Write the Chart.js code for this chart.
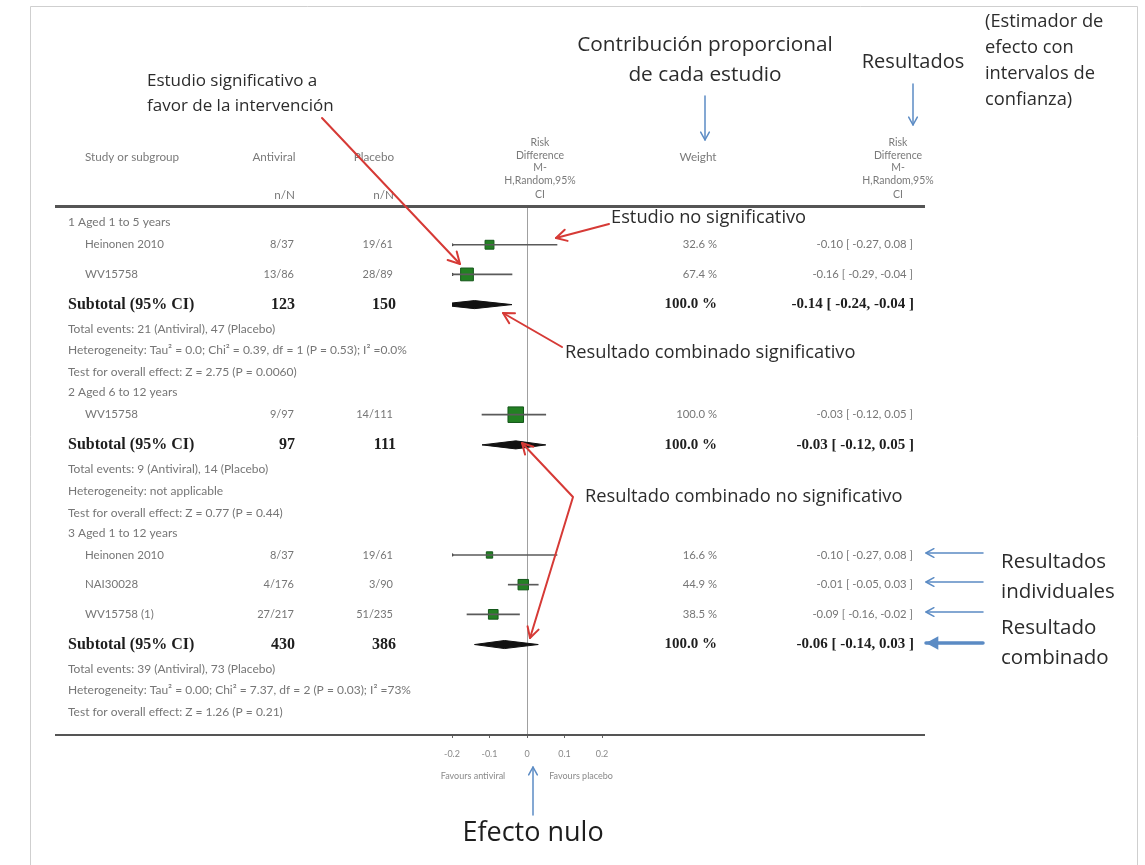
<!DOCTYPE html>
<html>
<head>
<meta charset="utf-8">
<title>Antivirales vs placebo - diferencia de riesgos</title>
<script src="https://cdn.jsdelivr.net/npm/chart.js@4.4.1/dist/chart.umd.min.js"></script>
<style>
  body { margin: 0; background: #fff; }
  #wrap { width: 1145px; height: 865px; position: relative; }
</style>
</head>
<body>
<div id="wrap"><canvas id="forest"></canvas></div>
<script>
// subgroups
const groupLabels = ['1 Aged 1 to 5 years', '2 Aged 6 to 12 years', '3 Aged 1 to 12 years'];

// individual studies
const studyGroup = [0, 0, 1, 2, 2, 2];
const studyNames = ['Heinonen 2010', 'WV15758', 'WV15758', 'Heinonen 2010', 'NAI30028', 'WV15758 (1)'];
const antiviralNN = ['8/37', '13/86', '9/97', '8/37', '4/176', '27/217'];
const placeboNN = ['19/61', '28/89', '14/111', '19/61', '3/90', '51/235'];
const weights = [32.6, 67.4, 100.0, 16.6, 44.9, 38.5];
const rd = [-0.10, -0.16, -0.03, -0.10, -0.01, -0.09];
const rdLow = [-0.27, -0.29, -0.12, -0.27, -0.05, -0.16];
const rdHigh = [0.08, -0.04, 0.05, 0.08, 0.03, -0.02];

// pooled results per subgroup
const subAntiviralN = [123, 97, 430];
const subPlaceboN = [150, 111, 386];
const subWeight = [100.0, 100.0, 100.0];
const subRd = [-0.14, -0.03, -0.06];
const subLow = [-0.24, -0.12, -0.14];
const subHigh = [-0.04, 0.05, 0.03];
const totalEvents = [
  'Total events: 21 (Antiviral), 47 (Placebo)',
  'Total events: 9 (Antiviral), 14 (Placebo)',
  'Total events: 39 (Antiviral), 73 (Placebo)'
];
const heterogeneity = [
  'Heterogeneity: Tau² = 0.0; Chi² = 0.39, df = 1 (P = 0.53); I² =0.0%',
  'Heterogeneity: not applicable',
  'Heterogeneity: Tau² = 0.00; Chi² = 7.37, df = 2 (P = 0.03); I² =73%'
];
const overallEffect = [
  'Test for overall effect: Z = 2.75 (P = 0.0060)',
  'Test for overall effect: Z = 0.77 (P = 0.44)',
  'Test for overall effect: Z = 1.26 (P = 0.21)'
];

// axis
const xTicks = [-0.2, -0.1, 0, 0.1, 0.2];
const xTickLabels = ['-0.2', '-0.1', '0', '0.1', '0.2'];

const TABLE_FONT = 'Lato, "DejaVu Sans", sans-serif';
const SERIF = '"Liberation Serif", "DejaVu Serif", serif';
const NOTE_FONT = '"Open Sans", "Noto Sans", sans-serif';
const RED = '#d63a36';
const BLUE = '#5b8bc4';

// build the row list, then stack rows with a spacing that depends on the row kind
const rows = [];
groupLabels.forEach((label, g) => {
  rows.push({ kind: 'group', text: label });
  studyGroup.forEach((sg, i) => { if (sg === g) rows.push({ kind: 'study', i: i }); });
  rows.push({ kind: 'subtotal', g: g });
  rows.push({ kind: 'text', text: totalEvents[g] });
  rows.push({ kind: 'text', text: heterogeneity[g] });
  rows.push({ kind: 'text', text: overallEffect[g] });
});
let pos = 0;
rows.forEach((r, k) => {
  if (k > 0) {
    const prev = rows[k - 1].kind;
    if (r.kind === 'study') pos += prev === 'group' ? 22 : 29.5;
    else if (r.kind === 'subtotal') pos += 30;
    else if (r.kind === 'text') pos += prev === 'subtotal' ? 24 : 21.7;
    else pos += 20;
  }
  r.y = pos;
});
const studyY = [];
const subY = [];
rows.forEach(r => {
  if (r.kind === 'study') studyY[r.i] = r.y;
  if (r.kind === 'subtotal') subY[r.g] = r.y;
});
const yMax = pos + 22.5;

const fmt = v => v.toFixed(2);
const rdText = (e, lo, hi) => fmt(e) + ' [ ' + fmt(lo) + ', ' + fmt(hi) + ' ]';

// diamonds for the pooled estimates
const DIAMOND_H = 4;
const diamondSets = subRd.map((e, g) => ({
  type: 'line',
  data: [
    { x: subLow[g], y: subY[g] },
    { x: e, y: subY[g] - DIAMOND_H },
    { x: subHigh[g], y: subY[g] },
    { x: e, y: subY[g] + DIAMOND_H },
    { x: subLow[g], y: subY[g] }
  ],
  borderColor: '#111',
  backgroundColor: '#111',
  borderWidth: 1,
  fill: 'shape',
  pointRadius: 0,
  tension: 0
}));

// intervals running past the left edge of the axis get a small end marker
const clippedIdx = studyNames.map((n, i) => i).filter(i => rdLow[i] < xTicks[0]);

function text(ctx, str, x, y, font, color, align) {
  ctx.font = font;
  ctx.fillStyle = color;
  ctx.textAlign = align || 'left';
  ctx.textBaseline = 'middle';
  ctx.fillText(str, x, y);
}

function polyline(ctx, pts, color, w) {
  ctx.strokeStyle = color;
  ctx.lineWidth = w;
  ctx.lineCap = 'round';
  ctx.lineJoin = 'round';
  ctx.beginPath();
  pts.forEach((p, k) => k ? ctx.lineTo(p[0], p[1]) : ctx.moveTo(p[0], p[1]));
  ctx.stroke();
}

function head(ctx, from, to, color, w, size, filled) {
  const a = Math.atan2(to[1] - from[1], to[0] - from[0]);
  const p1 = [to[0] - size * Math.cos(a - 0.5), to[1] - size * Math.sin(a - 0.5)];
  const p2 = [to[0] - size * Math.cos(a + 0.5), to[1] - size * Math.sin(a + 0.5)];
  if (filled) {
    ctx.fillStyle = color;
    ctx.beginPath();
    ctx.moveTo(to[0], to[1]);
    ctx.lineTo(p1[0], p1[1]);
    ctx.lineTo(p2[0], p2[1]);
    ctx.closePath();
    ctx.fill();
  } else {
    polyline(ctx, [p1, to, p2], color, w);
  }
}

function arrow(ctx, from, to, color, w, size, filled) {
  polyline(ctx, [from, to], color, w);
  head(ctx, from, to, color, w, size, filled);
}

const tablePlugin = {
  id: 'tablePlugin',
  beforeDraw(chart) {
    const ctx = chart.ctx;
    ctx.save();
    ctx.fillStyle = '#fff';
    ctx.fillRect(0, 0, chart.width, chart.height);
    ctx.restore();
  },
  afterDraw(chart) {
    const ctx = chart.ctx;
    const ys = chart.scales.y;
    ctx.save();

    // frame
    polyline(ctx, [[30.5, 870], [30.5, 6.5], [1137.5, 6.5], [1137.5, 870]], '#cfcfcf', 1);

    // table rules
    ctx.fillStyle = '#555';
    ctx.fillRect(55, 205, 870, 3);
    ctx.fillRect(55, 734, 870, 2);

    // column headers
    const hf = '11.7px ' + TABLE_FONT;
    const hc = '#7a7a7a';
    text(ctx, 'Study or subgroup', 85, 157, hf, hc);
    text(ctx, 'Antiviral', 274, 157, hf, hc, 'center');
    text(ctx, 'Placebo', 374, 157, hf, hc, 'center');
    text(ctx, 'n/N', 295, 195, hf, hc, 'right');
    text(ctx, 'n/N', 394, 195, hf, hc, 'right');
    text(ctx, 'Weight', 698, 157, hf, hc, 'center');
    const rdHead = ['Risk', 'Difference', 'M-', 'H,Random,95%', 'CI'];
    const rdHeadY = [143, 156, 168, 181, 195];
    rdHead.forEach((s, k) => {
      text(ctx, s, 540, rdHeadY[k], '10.5px ' + TABLE_FONT, hc, 'center');
      text(ctx, s, 898, rdHeadY[k], '10.5px ' + TABLE_FONT, hc, 'center');
    });

    // table body
    const rf = '12px ' + TABLE_FONT;
    const nmf = '11.5px ' + TABLE_FONT;
    const rc = '#767676';
    const sf = '11.3px ' + TABLE_FONT;
    const bold = 'bold 16px ' + SERIF;
    const boldR = 'bold 15px ' + SERIF;
    rows.forEach(r => {
      const y = ys.getPixelForValue(r.y);
      if (r.kind === 'group' || r.kind === 'text') {
        text(ctx, r.text, 68, y, rf, rc);
      } else if (r.kind === 'study') {
        const i = r.i;
        text(ctx, studyNames[i], 85, y, nmf, rc);
        text(ctx, antiviralNN[i], 294, y, '11px ' + TABLE_FONT, rc, 'right');
        text(ctx, placeboNN[i], 393, y, '11px ' + TABLE_FONT, rc, 'right');
        text(ctx, weights[i].toFixed(1) + ' %', 717, y, sf, rc, 'right');
        text(ctx, rdText(rd[i], rdLow[i], rdHigh[i]), 913, y, sf, rc, 'right');
      } else {
        const g = r.g;
        text(ctx, 'Subtotal (95% CI)', 68, y, bold, '#1e1e1e');
        text(ctx, String(subAntiviralN[g]), 295, y, bold, '#1e1e1e', 'right');
        text(ctx, String(subPlaceboN[g]), 396, y, bold, '#1e1e1e', 'right');
        text(ctx, subWeight[g].toFixed(1) + ' %', 717, y, boldR, '#1e1e1e', 'right');
        text(ctx, rdText(subRd[g], subLow[g], subHigh[g]), 914, y, boldR, '#1e1e1e', 'right');
      }
    });

    // favours labels under the axis
    const x0 = chart.scales.x.getPixelForValue(0);
    text(ctx, 'Favours antiviral', x0 - 54, 776, '9px ' + TABLE_FONT, '#8a8a8a', 'center');
    text(ctx, 'Favours placebo', x0 + 54, 776, '9px ' + TABLE_FONT, '#8a8a8a', 'center');

    // explanatory notes
    const nc = '#2c2c2c';
    const nf = '17px ' + NOTE_FONT;
    const nf2 = '18.3px ' + NOTE_FONT;
    text(ctx, 'Estudio significativo a', 147, 81, nf, nc);
    text(ctx, 'favor de la intervención', 147, 106, nf, nc);
    arrow(ctx, [322, 118], [460, 264], RED, 2, 13, false);

    text(ctx, 'Contribución proporcional', 705, 45, '20.8px ' + NOTE_FONT, nc, 'center');
    text(ctx, 'de cada estudio', 705, 75, '20.8px ' + NOTE_FONT, nc, 'center');
    arrow(ctx, [705, 96], [705, 140], BLUE, 1.5, 9, false);

    text(ctx, 'Resultados', 913, 62, '20px ' + NOTE_FONT, nc, 'center');
    arrow(ctx, [913, 84], [913, 125], BLUE, 1.5, 9, false);

    const est = ['(Estimador de', 'efecto con', 'intervalos de', 'confianza)'];
    est.forEach((s, k) => text(ctx, s, 985, 22 + k * 26, '18.3px ' + NOTE_FONT, nc));

    text(ctx, 'Estudio no significativo', 611, 218, nf2, nc);
    arrow(ctx, [609, 224], [556, 238], RED, 2, 12, false);

    text(ctx, 'Resultado combinado significativo', 565, 353, nf2, nc);
    arrow(ctx, [562, 347], [503, 313], RED, 2, 12, false);

    text(ctx, 'Resultado combinado no significativo', 585, 497, nf2, nc);
    polyline(ctx, [[522, 443], [573, 497], [530, 638]], RED, 2);
    head(ctx, [573, 497], [522, 443], RED, 2, 12, false);
    head(ctx, [573, 497], [530, 638], RED, 2, 12, false);

    [553, 582, 612].forEach(y => arrow(ctx, [983, y], [926, y], BLUE, 1.5, 9, false));
    arrow(ctx, [983, 643], [926, 643], BLUE, 3.5, 14, true);
    const rf2 = '20.5px ' + NOTE_FONT;
    text(ctx, 'Resultados', 1001, 562, rf2, nc);
    text(ctx, 'individuales', 1001, 592, rf2, nc);
    text(ctx, 'Resultado', 1001, 628, rf2, nc);
    text(ctx, 'combinado', 1001, 658, rf2, nc);

    arrow(ctx, [533, 815], [533, 767], BLUE, 1.5, 9, false);
    text(ctx, 'Efecto nulo', 533, 833, '27px ' + NOTE_FONT, '#1e1e1e', 'center');

    ctx.restore();
  }
};

new Chart(document.getElementById('forest'), {
  type: 'scatter',
  data: {
    datasets: [
      {
        // confidence intervals of each study
        type: 'bar',
        indexAxis: 'y',
        data: studyNames.map((n, i) => ({ x: [rdLow[i], rdHigh[i]], y: studyY[i] })),
        backgroundColor: '#5a5a5a',
        borderWidth: 0,
        barThickness: 1
      },
      {
        // end markers of intervals cut at the axis limit
        type: 'scatter',
        data: clippedIdx.map(i => ({ x: xTicks[0], y: studyY[i] })),
        pointStyle: 'circle',
        pointRadius: 1.6,
        backgroundColor: '#333',
        borderWidth: 0
      },
      {
        // point estimates sized by weight
        type: 'scatter',
        data: studyNames.map((n, i) => ({ x: rd[i], y: studyY[i] })),
        pointStyle: 'rect',
        pointRadius: weights.map(w => 1.1 * Math.sqrt(w)),
        backgroundColor: '#238023',
        borderColor: '#14561a',
        borderWidth: 1
      },
      ...diamondSets
    ]
  },
  options: {
    responsive: true,
    maintainAspectRatio: false,
    animation: false,
    events: [],
    layout: { padding: { left: 452, right: 543, top: 207, bottom: 90 } },
    plugins: { legend: { display: false }, tooltip: { enabled: false } },
    scales: {
      x: {
        type: 'linear',
        min: -0.2,
        max: 0.2,
        offset: false,
        afterBuildTicks: s => { s.ticks = xTicks.map(v => ({ value: v })); },
        afterFit: s => { s.height = 40; },
        ticks: {
          callback: (v, i) => xTickLabels[i],
          font: { family: TABLE_FONT, size: 9 },
          color: '#8a8a8a',
          padding: 11,
          maxRotation: 0
        },
        grid: {
          offset: false,
          color: c => (c.tick && c.tick.value === 0 ? '#a0a0a0' : 'rgba(0,0,0,0)'),
          tickColor: '#666',
          tickLength: 3
        },
        border: { display: false }
      },
      y: {
        type: 'linear',
        display: false,
        reverse: true,
        min: -15.5,
        max: yMax,
        offset: false
      }
    }
  },
  plugins: [tablePlugin]
});
</script>
</body>
</html>
